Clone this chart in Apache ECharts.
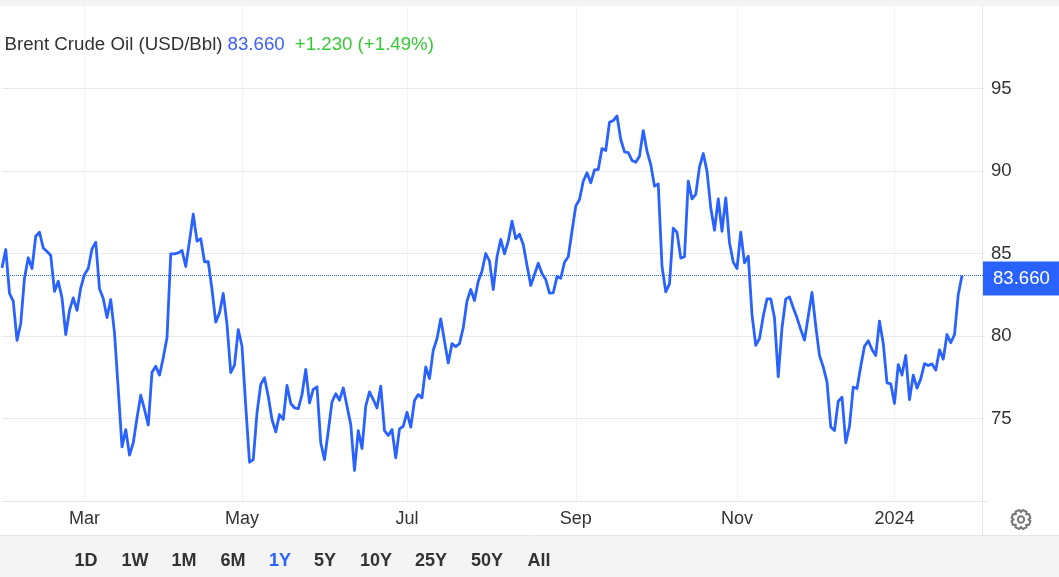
<!DOCTYPE html>
<html><head><meta charset="utf-8">
<style>html,body{margin:0;padding:0;background:#fff}#c{width:1059px;height:577px}</style>
<script src="https://cdn.jsdelivr.net/npm/echarts@6/dist/echarts.min.js"></script>
</head><body><div id="c"></div>
<script>
const prices = [84.13,85.24,82.58,82.11,79.73,80.76,83.52,84.74,84.09,86.05,86.29,85.34,85.12,84.88,82.70,83.32,82.31,80.09,81.55,82.31,81.55,82.92,83.73,84.09,85.28,85.69,82.86,82.27,81.12,82.21,80.19,76.76,73.28,74.33,72.78,73.52,75.04,76.41,75.55,74.60,77.81,78.17,77.63,78.68,79.89,84.98,84.98,85.04,85.18,84.21,85.75,87.38,85.75,85.89,84.50,84.50,82.82,80.84,81.40,82.58,80.70,77.78,78.23,80.39,79.38,75.75,72.35,72.51,75.34,77.06,77.47,76.35,74.94,74.19,75.24,74.94,77.00,75.91,75.65,75.59,76.45,77.97,75.95,76.76,76.92,73.52,72.51,74.23,76.01,76.50,76.11,76.86,75.75,74.64,
71.85,74.27,73.18,75.75,76.61,76.15,75.64,76.96,74.27,73.97,74.33,72.62,74.37,74.53,75.38,74.47,76.09,76.45,76.25,78.13,77.42,79.14,79.83,81.04,79.69,78.37,79.54,79.36,79.54,80.50,82.11,82.82,82.15,83.32,83.93,85.00,84.54,82.82,84.80,85.85,84.98,85.75,86.96,85.89,86.17,85.55,84.29,83.06,83.73,84.41,83.79,83.42,82.60,82.62,83.60,83.50,84.47,84.80,86.35,87.87,88.27,89.38,89.89,89.28,90.07,90.09,91.36,91.24,92.96,93.06,93.34,91.91,91.16,91.12,90.64,90.53,90.90,92.45,91.20,90.39,89.08,89.22,84.23,82.68,83.16,86.54,86.29,84.72,84.80,89.38,
88.31,88.58,90.25,91.06,89.99,87.77,86.41,88.31,86.35,88.37,85.65,84.48,84.09,86.29,84.43,84.84,81.30,79.44,79.85,81.20,82.25,82.25,81.10,77.53,80.50,82.25,82.37,81.71,81.10,80.39,79.75,81.20,82.64,80.60,78.82,78.13,77.22,74.49,74.27,76.05,76.29,73.53,74.54,76.90,76.82,78.17,79.38,79.71,79.18,78.82,80.90,79.55,77.16,77.10,75.91,78.27,77.63,78.82,76.15,77.63,76.84,77.40,78.33,78.21,78.31,77.93,79.16,78.60,80.09,79.59,80.09,82.52,83.66];
const slotCount = 263;
const monthLabels = ['Mar','May','Jul','Sep','Nov','2024'];
const monthSlots = [22,64,108,153,196,238];
const rangeLabels = ['1D','1W','1M','6M','1Y','5Y','10Y','25Y','50Y','All'];
const rangeCentres = [86,135,184,233,280,325,376,431,487,539];
const activeRange = '1Y';
const lastPrice = 83.66;

const BLUE = '#2962ff';
const FONT = '"Liberation Sans", Arial, sans-serif';
const categories = Array.from({length: slotCount}, () => '');
monthSlots.forEach((s, i) => categories[s] = monthLabels[i]);
const isMonth = (i, v) => v !== '';

function gearOutline(cx, cy, rOut, rIn, teeth) {
  const pts = [], step = Math.PI * 2 / teeth;
  for (let k = 0; k < teeth; k++) {
    const a = k * step + step / 2;
    [[-0.5, rIn], [-0.28, rOut], [0.28, rOut], [0.5, rIn]].forEach(([f, r]) => {
      const t = a + f * step;
      pts.push([cx + r * Math.cos(t), cy + r * Math.sin(t)]);
    });
  }
  return pts;
}

const graphics = [
  {type:'rect', z:-1, silent:true, shape:{x:0,y:0,width:1059,height:6}, style:{fill:'#f4f4f4'}},
  {type:'rect', z:-1, silent:true, shape:{x:0,y:535,width:1059,height:42}, style:{fill:'#f4f4f4'}},
  {type:'line', silent:true, shape:{x1:982.5,y1:6,x2:982.5,y2:535}, style:{stroke:'#e6e6e6',lineWidth:1}},
  {type:'line', silent:true, shape:{x1:983,y1:501.5,x2:988,y2:501.5}, style:{stroke:'#e6e6e6',lineWidth:1}},
  {type:'line', silent:true, shape:{x1:0,y1:535.5,x2:1059,y2:535.5}, style:{stroke:'#e6e6e6',lineWidth:1}},
  {type:'polygon', silent:true, shape:{points:gearOutline(1021,519.5,9.6,7.3,8)}, style:{fill:'none',stroke:'#777',lineWidth:2,lineJoin:'round'}},
  {type:'circle', silent:true, shape:{cx:1021,cy:519.5,r:3.2}, style:{fill:'none',stroke:'#777',lineWidth:2}},
  ...rangeLabels.map((t, i) => ({type:'text', silent:true, x:rangeCentres[i], y:561,
    style:{text:t, fill:t===activeRange?BLUE:'#333', font:'bold 18px '+FONT, textAlign:'center', textVerticalAlign:'middle'}}))
];

echarts.init(document.getElementById('c'), null, {renderer:'canvas'}).setOption({
  animation:false,
  backgroundColor:'#fff',
  title:{left:4.5, top:35.5, padding:0, text:'{a|Brent Crude Oil (USD/Bbl)} {b|83.660}  {c|+1.230 (+1.49%)}',
    textStyle:{fontWeight:'normal',rich:{
      a:{fontSize:18.7,fontWeight:'normal',fontFamily:FONT,color:'#333'},
      b:{fontSize:18.7,fontWeight:'normal',fontFamily:FONT,color:'#3d5dff'},
      c:{fontSize:18.7,fontWeight:'normal',fontFamily:FONT,color:'#37c837'}}}},
  grid:{left:2,right:74.5,top:6,bottom:76},
  xAxis:{type:'category', data:categories, boundaryGap:false,
    axisLine:{show:true,lineStyle:{color:'#e6e6e6',width:1}},
    axisTick:{show:false},
    axisLabel:{interval:isMonth,color:'#333',fontSize:18,fontFamily:FONT,margin:9,hideOverlap:false},
    splitLine:{show:true,interval:isMonth,lineStyle:{color:'#f0f4f8',width:1}}},
  yAxis:{type:'value', position:'right', min:70, max:100, interval:5,
    axisLine:{show:false}, axisTick:{show:false},
    axisLabel:{color:'#333',fontSize:18.6,fontFamily:FONT,margin:6.5,padding:[2,0,0,0],
      formatter:v=>(v>=75&&v<=95)?String(v):''},
    splitLine:{show:true,showMaxLine:false,showMinLine:false,lineStyle:{color:'#e9e9e9',width:1}}},
  series:[{type:'line', data:prices, symbol:'none', smooth:false, clip:false,
    lineStyle:{color:BLUE,width:2.8,join:'round'},
    markLine:{silent:true, symbol:'none', animation:false,
      lineStyle:{color:BLUE,type:'dotted',width:1},
      label:{show:true,position:'end',distance:0,formatter:'83.660',color:'#fff',fontSize:18.6,fontFamily:FONT,
        backgroundColor:BLUE,padding:[8,10,7,10],align:'left',offset:[-1.5,3]},
      data:[{yAxis:lastPrice}]}}],
  graphic:graphics
});
</script></body></html>
